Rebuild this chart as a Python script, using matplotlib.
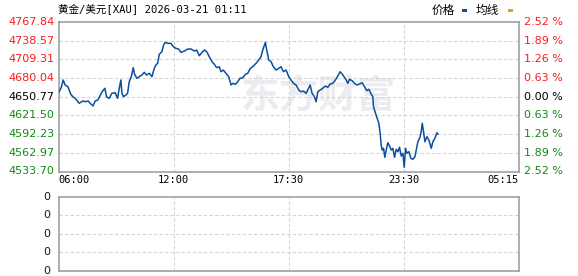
import matplotlib
matplotlib.use("Agg")
import matplotlib.pyplot as plt
from matplotlib.patches import Rectangle

# ---------------- data ----------------
title_text = "黄金/美元[XAU] 2026-03-21 01:11"
x_tick_labels = ["06:00", "12:00", "17:30", "23:30", "05:15"]
x_tick_pos = [0, 345, 690, 1035, 1380]   # session index (4 equal segments)
price_ticks = [4767.84, 4738.57, 4709.31, 4680.04, 4650.77, 4621.50, 4592.23, 4562.97, 4533.70]
pct_labels = ["2.52", "1.89", "1.26", "0.63", "0.00", "0.63", "1.26", "1.89", "2.52"]
prev_close = 4650.77

minutes = [1, 8, 14, 20, 28, 32, 37, 43, 50, 58, 62, 73, 82, 89, 95, 103, 110, 118, 124, 132,
           139, 144, 152, 160, 170, 177, 182, 187, 190, 195, 202, 207, 212, 218, 224, 228, 235, 242, 250, 257,
           264, 272, 280, 287, 292, 297, 302, 310, 315, 320, 327, 337, 344, 352, 360, 367, 377, 387, 397, 407,
           414, 422, 430, 437, 444, 452, 460, 467, 474, 482, 487, 494, 502, 510, 517, 522, 530, 537, 544, 552,
           560, 567, 575, 582, 592, 600, 607, 612, 617, 620, 624, 630, 637, 644, 652, 660, 667, 674, 682, 690,
           697, 704, 712, 720, 727, 734, 742, 747, 754, 760, 767, 772, 777, 784, 792, 800, 807, 814, 822, 830,
           837, 844, 850, 857, 862, 867, 872, 880, 887, 894, 902, 910, 917, 924, 930, 937, 942, 944, 950, 955,
           960, 964, 967, 970, 974, 978, 982, 987, 992, 997, 1002, 1007, 1012, 1017, 1022, 1027, 1032, 1036, 1040, 1044,
           1050, 1056, 1062, 1068, 1072, 1077, 1082, 1087, 1090, 1094, 1098, 1104, 1110, 1117, 1122, 1128, 1134, 1137]
prices = [4657.7, 4664.9, 4677.0, 4669.2, 4666.5, 4661.3, 4654.6, 4650.8, 4648.3, 4643.0,
          4640.5, 4644.1, 4643.0, 4644.1, 4640.5, 4636.3, 4644.1, 4645.7, 4651.9, 4659.7,
          4664.0, 4650.8, 4648.3, 4656.2, 4657.1, 4648.3, 4664.0, 4677.0, 4656.2, 4650.8,
          4653.5, 4656.2, 4674.3, 4682.2, 4696.3, 4685.9, 4679.7, 4682.2, 4684.8, 4689.0,
          4684.8, 4687.5, 4682.2, 4695.3, 4700.5, 4703.1, 4717.2, 4721.3, 4731.8, 4736.0,
          4734.4, 4734.4, 4729.1, 4726.6, 4725.5, 4720.3, 4722.4, 4725.5, 4725.5, 4722.4,
          4723.9, 4715.0, 4720.3, 4723.9, 4721.3, 4713.5, 4705.6, 4701.6, 4696.3, 4697.8,
          4690.0, 4692.6, 4687.5, 4682.2, 4669.2, 4671.8, 4670.3, 4674.3, 4679.7, 4680.6,
          4685.9, 4687.5, 4695.3, 4697.8, 4703.1, 4708.3, 4713.5, 4723.9, 4731.8, 4736.0,
          4723.9, 4708.3, 4705.6, 4697.8, 4692.6, 4695.3, 4697.8, 4690.0, 4692.6, 4682.2,
          4677.0, 4671.8, 4669.2, 4661.3, 4658.6, 4659.7, 4656.2, 4661.3, 4669.2, 4656.2,
          4650.8, 4643.0, 4658.6, 4661.3, 4664.0, 4667.6, 4665.5, 4670.7, 4671.8, 4677.0,
          4683.3, 4690.0, 4686.4, 4681.2, 4677.0, 4671.8, 4678.1, 4675.9, 4671.8, 4669.2,
          4670.7, 4672.7, 4666.5, 4660.2, 4662.4, 4655.0, 4650.8, 4635.1, 4624.8, 4617.0,
          4609.2, 4593.5, 4575.2, 4567.3, 4570.0, 4555.9, 4567.3, 4578.8, 4573.6, 4567.3,
          4570.0, 4555.9, 4568.4, 4564.7, 4571.6, 4557.9, 4562.2, 4540.2, 4570.0, 4562.2,
          4564.7, 4554.3, 4552.8, 4556.8, 4567.3, 4580.3, 4585.7, 4596.0, 4609.2, 4596.0,
          4580.3, 4588.2, 4583.0, 4570.0, 4580.3, 4585.7, 4594.4, 4592.4]
vol_tick_labels = ["0", "0", "0", "0", "0"]
legend_items = ["价格", "均线"]

# ---------------- styles ----------------
W, H = 578, 276
LINE_C = "#0b4f9f"
SPINE_C = "#999999"
GRID_C = "#d4d4d4"
RED = "#ff1a1a"
GREEN = "#108a10"
CJK = ["Noto Sans CJK SC", "DejaVu Sans"]

fig = plt.figure(figsize=(W / 100, H / 100), dpi=100)
fig.patch.set_facecolor("white")

def px_rect(l, t, r, b):
    return [l / W, 1 - b / H, (r - l) / W, (b - t) / H]

ax = fig.add_axes(px_rect(58.5, 22, 519, 171.5))
axv = fig.add_axes(px_rect(58.5, 197, 519, 270.5))

for a in (ax, axv):
    for s in a.spines.values():
        s.set_color(SPINE_C)
        s.set_linewidth(1.1)
    a.set_xlim(x_tick_pos[0], x_tick_pos[-1])
    a.tick_params(length=0)
    a.set_xticks(x_tick_pos[1:-1])
    a.grid(True, color=GRID_C, linestyle=(0, (3, 2)), linewidth=0.8)
    a.set_axisbelow(True)

# main price panel
ax.set_ylim(price_ticks[-1], price_ticks[0])
ax.set_yticks(price_ticks[1:-1])
ax.set_xticklabels([])
ax.set_yticklabels([])

# watermark
ax.text(0.395, 0.50, "东方财富", transform=ax.transAxes, fontsize=28, fontweight="bold",
        color="#ececf0", family=CJK, ha="left", va="center", zorder=0)

ax.plot(minutes, prices, color=LINE_C, linewidth=1.1, zorder=3)

# left price labels
for i, v in enumerate(price_ticks):
    c = RED if v > prev_close else ("black" if v == prev_close else GREEN)
    ax.text(-0.009, v, f"{v:.2f}", transform=ax.get_yaxis_transform(), ha="right", va="center",
            fontsize=8, color=c, family="DejaVu Sans")
# right pct labels
for i, (v, lab) in enumerate(zip(price_ticks, pct_labels)):
    c = RED if v > prev_close else ("black" if v == prev_close else GREEN)
    ax.text(1.011, v, lab + " %", transform=ax.get_yaxis_transform(), ha="left", va="center",
            fontsize=8, color=c, family="DejaVu Sans")

# x labels
for i, (p, lab) in enumerate(zip(x_tick_pos, x_tick_labels)):
    ha = "left" if i == 0 else ("right" if i == len(x_tick_pos) - 1 else "center")
    ax.text(p, -0.06, lab, transform=ax.get_xaxis_transform(), ha=ha, va="center",
            fontsize=7.5, color="black", family="DejaVu Sans Mono")

# volume panel
axv.set_ylim(0, len(vol_tick_labels) - 1)
axv.set_yticks(range(1, len(vol_tick_labels) - 1))
axv.set_xticklabels([])
axv.set_yticklabels([])
for i, lab in enumerate(vol_tick_labels):
    axv.text(-0.017, len(vol_tick_labels) - 1 - i, lab, transform=axv.get_yaxis_transform(),
             ha="right", va="center", fontsize=8, color="#101040", family="DejaVu Sans")

# title
fig.text(58.5 / W, 1 - 9 / H, title_text, ha="left", va="center", fontsize=7.6,
         family=["DejaVu Sans Mono", "Noto Sans CJK SC"], color="black")

# legend
fig.text(432 / W, 1 - 10 / H, legend_items[0], ha="left", va="center", fontsize=8.4, family=CJK)
fig.patches.append(Rectangle((462 / W, 1 - 12 / H), 5 / W, 3 / H, transform=fig.transFigure,
                             facecolor=LINE_C, edgecolor="none"))
fig.text(476 / W, 1 - 10 / H, legend_items[1], ha="left", va="center", fontsize=8.4, family=CJK)
fig.patches.append(Rectangle((508 / W, 1 - 12 / H), 5 / W, 3 / H, transform=fig.transFigure,
                             facecolor="#e0a020", edgecolor="none"))

fig.savefig("out.png", dpi=100, facecolor="white")
